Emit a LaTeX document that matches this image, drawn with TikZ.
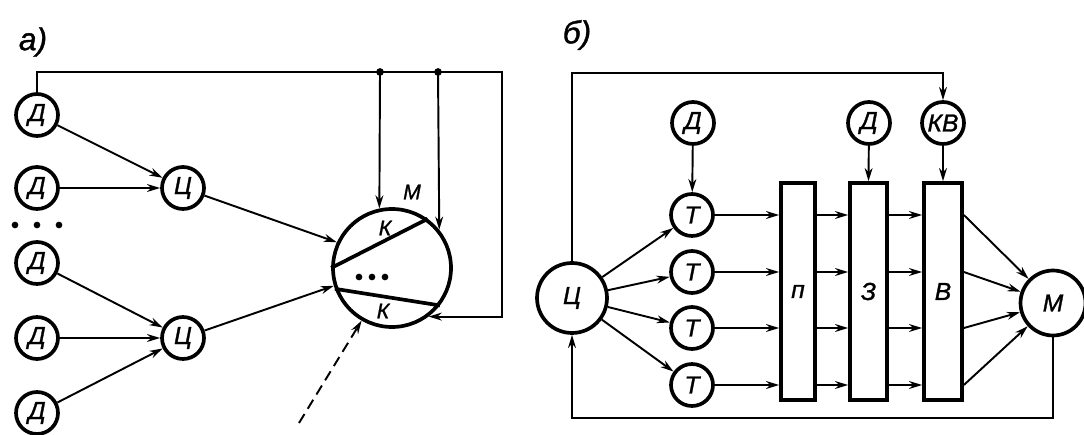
\documentclass[tikz,border=0pt]{standalone}
\usepackage{fontspec}
\setmainfont{Liberation Sans}[ItalicFeatures={FakeBold=1.2}]
\usetikzlibrary{arrows.meta,calc}
\begin{document}
\begin{tikzpicture}[x=0.02cm,y=-0.02cm,font=\fontsize{14}{16}\selectfont\itshape,
  circ/.style={draw,circle,line width=2.1pt,minimum size=0.84cm,inner sep=0pt},
  blk/.style={draw,rectangle,line width=2.1pt,minimum width=0.7cm,minimum height=4.34cm,inner sep=0pt},
  arr/.style={line width=1.1pt,-{Stealth[length=7.5pt,width=4.5pt]}},
  chord/.style={line width=2.1pt},
  lbl/.style={font=\fontsize{18}{20}\selectfont\itshape},
  sml/.style={font=\fontsize{12}{13}\selectfont\itshape,inner sep=0pt}]
  \useasboundingbox (0,0) rectangle (1084,435);

  % a)
  \node[lbl] (la) at (33,42) {а)};
  \node[circ] (Da1) at (37,115) {Д};
  \node[circ] (Da2) at (37,188) {Д};
  \node[circ] (Da3) at (37,263) {Д};
  \node[circ] (Da4) at (37,338) {Д};
  \node[circ] (Da5) at (37,413) {Д};
  \foreach \x in {15,37,59}
    \fill (\x,225) circle[radius=1.9pt];
  \node[circ] (Ca1) at (183,188) {Ц};
  \node[circ] (Ca2) at (183,338) {Ц};

  \node[circ,minimum size=2.36cm] (Ma) at (392,268) {};
  \draw[chord] (Ma.180) -- (Ma.54);
  \draw[chord] (Ma.200) -- (Ma.-38);
  \node[sml] (Ka1) at (385,228) {К};
  \node[sml] (Ka2) at (383,311) {К};
  \node[sml] (Mla) at (412,192) {М};
  \foreach \x in {359,372,385}
    \fill (\x,277) circle[radius=1.9pt];

  \draw[arr] (Da1) -- (Ca1);
  \draw[arr] (Da2) -- (Ca1);
  \draw[arr] (Da3) -- (Ca2);
  \draw[arr] (Da4) -- (Ca2);
  \draw[arr] (Da5) -- (Ca2);
  \draw[arr] (Ca1) -- (Ma.155);
  \draw[arr] (Ca2) -- (Ma.197);

  \coordinate (ra) at (502,72);
  \coordinate (j1) at (380,72);
  \coordinate (j2) at (438,72);
  \draw[arr] (Da1.north) |- (ra) |- (Ma.-53);
  \fill (j1) circle[radius=2.2pt];
  \fill (j2) circle[radius=2.2pt];
  \draw[arr] (j1) -- (Ma.102);
  \draw[arr] (j2) -- (Ma.39);
  \coordinate (ds) at (299,423);
  \draw[arr,dash pattern=on 6pt off 3.5pt] (ds) -- (Ma.240);

  % b)
  \node[lbl] (lb) at (577,35) {б)};
  \node[circ,minimum size=1.4cm] (Cb) at (572,298) {Ц};
  \node[circ] (Db1) at (693,123) {Д};
  \node[circ] (T1) at (692,215) {Т};
  \node[circ] (T2) at (692,272) {Т};
  \node[circ] (T3) at (692,328) {Т};
  \node[circ] (T4) at (692,385) {Т};
  \node[blk,minimum width=0.68cm] (P) at (798,291.5) {п};
  \node[blk,minimum width=0.74cm] (Z) at (868.5,291.5) {З};
  \node[blk,minimum width=0.76cm] (B) at (943,291.5) {В};
  \node[circ] (Db2) at (869,123) {Д};
  \node[circ] (KV) at (943,123) {КВ};
  \node[circ,minimum size=1.3cm] (Mb) at (1053,303) {М};

  \draw[arr] (Db1) -- (T1);
  \draw[arr] (Db2) -- (Z.north);
  \draw[arr] (KV) -- (B.north);
  \foreach \i in {1,...,4} {
    \draw[arr] (Cb) -- (T\i);
    \draw[arr] (T\i) -- (T\i -| P.west);
    \draw[arr] (T\i -| P.east) -- (T\i -| Z.west);
    \draw[arr] (T\i -| Z.east) -- (T\i -| B.west);
    \draw[arr] (T\i -| B.east) -- (Mb);
  }

  \coordinate (tb) at (572,73);
  \coordinate (bb) at (572,418);
  \draw[arr] (Cb.north) -- (tb) -| (KV.north);
  \draw[arr] (Mb.south) |- (bb) -- (Cb.south);
\end{tikzpicture}
\end{document}
